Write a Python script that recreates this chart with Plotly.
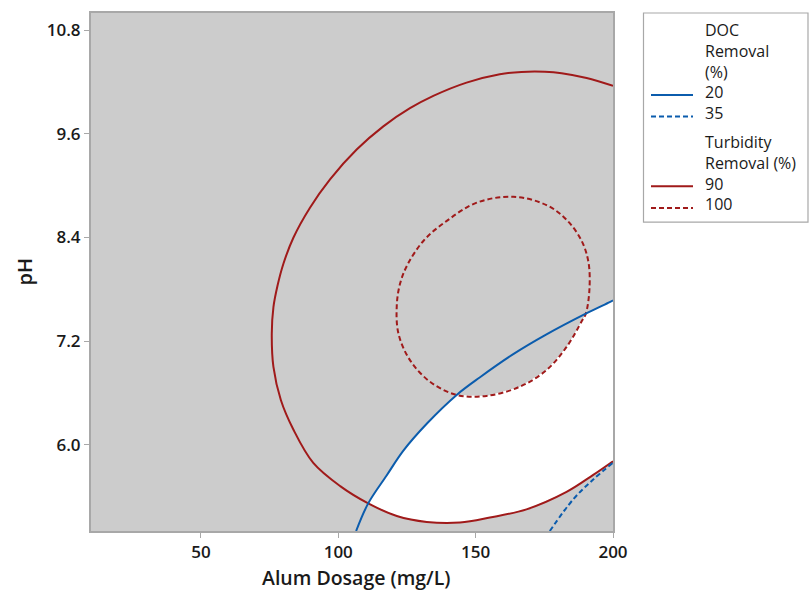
import plotly.graph_objects as go

# ---------------- data ----------------
# Turbidity Removal (%) = 90 contour (Alum dosage mg/L, pH)
t90_x = [200.0, 190.4, 181.3, 175.2, 166.7, 158.8, 146.7, 134.6, 126.1, 116.4, 106.7, 97.0,
         89.7, 83.7, 80.0, 77.9, 76.4, 75.8, 76.4, 79.1, 83.7, 90.9, 100.7, 110.9, 121.3,
         132.2, 144.3, 155.2, 168.5, 183.1, 192.8, 200.0]
t90_y = [10.156, 10.247, 10.303, 10.320, 10.318, 10.290, 10.194, 10.040, 9.897, 9.687, 9.418,
         9.073, 8.745, 8.400, 8.093, 7.843, 7.593, 7.286, 6.901, 6.518, 6.173, 5.789, 5.520,
         5.320, 5.174, 5.105, 5.098, 5.156, 5.251, 5.453, 5.650, 5.808]

# Turbidity Removal (%) = 100 contour (closed loop)
t100_x = [163.7, 150.4, 139.5, 131.2, 125.2, 122.5, 121.3, 121.9, 126.1, 133.4, 143.1, 154.0,
          166.1, 175.8, 183.1, 188.8, 190.1, 191.4, 191.1, 188.6, 183.2, 175.8, 163.7]
t100_y = [8.872, 8.803, 8.592, 8.368, 8.085, 7.866, 7.613, 7.287, 6.979, 6.729, 6.576, 6.565,
          6.672, 6.864, 7.132, 7.440, 7.517, 7.785, 8.107, 8.360, 8.602, 8.775, 8.872]

# DOC Removal (%) = 20 contour
d20_x = [106.5, 110.9, 117.6, 123.7, 132.2, 143.1, 151.6, 163.7, 175.8, 190.1, 198.8, 200.0]
d20_y = [5.000, 5.320, 5.643, 5.931, 6.242, 6.576, 6.781, 7.048, 7.277, 7.517, 7.651, 7.671]

# DOC Removal (%) = 35 contour
d35_x = [177.0, 185.5, 192.8, 200.0]
d35_y = [5.000, 5.366, 5.597, 5.790]

x_ticks = [50, 100, 150, 200]
y_ticks = [6.0, 7.2, 8.4, 9.6, 10.8]

# ---------------- styles ----------------
RED = "#A01A1A"
BLUE = "#0B5CAD"
GRAY_BG = "#CCCCCC"
AXIS_C = "#A8A8A8"
TXT = "#1A1A1A"
FONT = "Open Sans"

# feasible (white) region built from pieces of the contours
i_p1 = 1             # DOC20 / T90 crossing (index in d20 list)
i_p2 = 5             # DOC20 / T100 lower crossing
i_p3 = 9             # DOC20 / T100 right crossing
j_p2, j_p3 = 10, 16  # same crossings in the T100 list
k_p1 = 23            # DOC20 / T90 crossing in the T90 list
white_x = (d20_x[i_p1:i_p2 + 1] + t100_x[j_p2 + 1:j_p3 + 1] + d20_x[i_p3 + 1:]
           + t90_x[:k_p1:-1])
white_y = (d20_y[i_p1:i_p2 + 1] + t100_y[j_p2 + 1:j_p3 + 1] + d20_y[i_p3 + 1:]
           + t90_y[:k_p1:-1])

fig = go.Figure()
fig.add_trace(go.Scatter(x=white_x, y=white_y, mode="lines", fill="toself",
                         fillcolor="white", line=dict(width=0, color="white"),
                         hoverinfo="skip", showlegend=False))
fig.add_trace(go.Scatter(x=t90_x, y=t90_y, mode="lines", name="90",
                         line=dict(color=RED, width=2, shape="spline"), showlegend=False))
fig.add_trace(go.Scatter(x=t100_x, y=t100_y, mode="lines", name="100",
                         line=dict(color=RED, width=2, shape="spline", dash="5px,3px"),
                         showlegend=False))
fig.add_trace(go.Scatter(x=d20_x, y=d20_y, mode="lines", name="20",
                         line=dict(color=BLUE, width=2, shape="spline"), showlegend=False))
fig.add_trace(go.Scatter(x=d35_x, y=d35_y, mode="lines", name="35",
                         line=dict(color=BLUE, width=2, shape="spline", dash="5px,3px"),
                         showlegend=False))

W, H = 810, 592
ML, MR, MT, MB = 91, 197, 11, 61
PW, PH = W - ML - MR, H - MT - MB


def px(xp):
    return (xp - ML) / PW


def py(yp):
    return (H - MB - yp) / PH


shapes = []
annotations = []
# legend box
shapes.append(dict(type="rect", xref="paper", yref="paper", x0=px(643.5), x1=px(808),
                   y0=py(221), y1=py(11), line=dict(color=AXIS_C, width=1.2),
                   fillcolor="white", layer="below"))
legend_blocks = [("DOC<br>Removal<br>(%)<br>20<br>35", 70),
                 ("Turbidity<br>Removal (%)<br>90<br>100", 171.8)]
for t, yy in legend_blocks:
    annotations.append(dict(text=t, xref="paper", yref="paper", x=px(703), y=py(yy),
                            xanchor="left", yanchor="middle", align="left",
                            showarrow=False,
                            font=dict(family=FONT, size=16, color=TXT)))
legend_lines = [(93.3, BLUE, "solid"), (115, BLUE, "5px,3px"),
                (185, RED, "solid"), (206.7, RED, "5px,3px")]
for yl, c, d in legend_lines:
    shapes.append(dict(type="line", xref="paper", yref="paper", x0=px(651), x1=px(693),
                       y0=py(yl), y1=py(yl), line=dict(color=c, width=2, dash=d)))

# axis titles
annotations.append(dict(text="Alum Dosage (mg/L)", xref="paper", yref="paper",
                        x=px(356), y=py(578), xanchor="center", yanchor="middle",
                        showarrow=False,
                        font=dict(family=FONT, size=19.5, color=TXT, weight=600)))
annotations.append(dict(text="pH", xref="paper", yref="paper", textangle=-90,
                        x=px(24), y=py(271.5), xanchor="center", yanchor="middle",
                        showarrow=False,
                        font=dict(family=FONT, size=20, color=TXT, weight=600)))

fig.update_layout(
    width=W, height=H, margin=dict(l=ML, r=MR, t=MT, b=MB),
    paper_bgcolor="white", plot_bgcolor=GRAY_BG,
    shapes=shapes, annotations=annotations, showlegend=False,
    font=dict(family=FONT, color=TXT),
)
fig.update_xaxes(range=[10, 200], tickvals=x_ticks, ticks="outside", ticklen=5,
                 tickcolor=AXIS_C, showgrid=False, zeroline=False,
                 showline=True, linecolor=AXIS_C, linewidth=2, mirror=True,
                 tickfont=dict(family=FONT, size=17, color=TXT, weight=600))
fig.update_yaxes(range=[5, 11], tickvals=y_ticks, tickformat=".1f", ticks="outside",
                 ticklen=5, tickcolor=AXIS_C, showgrid=False, zeroline=False,
                 showline=True, linecolor=AXIS_C, linewidth=2, mirror=True,
                 tickfont=dict(family=FONT, size=17, color=TXT, weight=600))

fig.write_html("out.html")
